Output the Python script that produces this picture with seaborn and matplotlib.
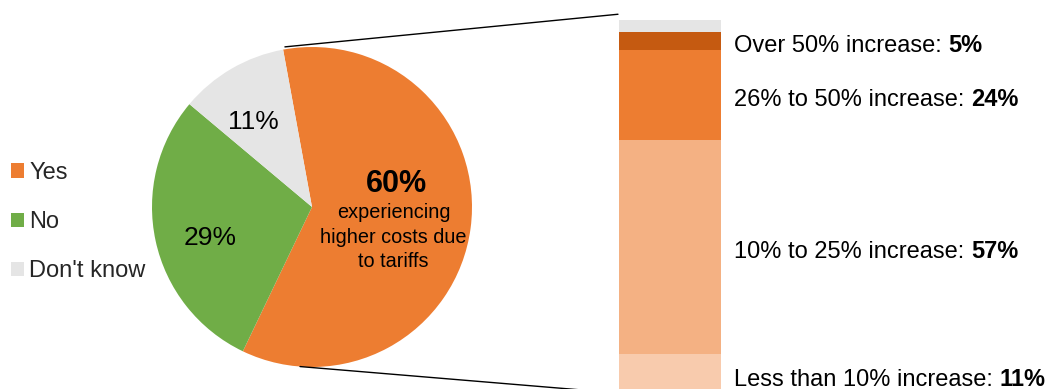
import matplotlib
matplotlib.use("Agg")
import matplotlib.pyplot as plt
from matplotlib.patches import Patch, ConnectionPatch
import seaborn as sns
import numpy as np

# ---------------- data ----------------
pie_labels = ["Yes", "No", "Don't know"]
pie_values = [60, 29, 11]
pie_colors = ["#ED7D31", "#70AD47", "#E5E5E5"]

yes_caption = "experiencing\nhigher costs due\nto tariffs"

bar_labels = ["Less than 10% increase", "10% to 25% increase",
              "26% to 50% increase", "Over 50% increase", ""]
bar_values = [11, 57, 24, 5, 3]
bar_colors = ["#F8CBAD", "#F4B183", "#ED7D31", "#C55A11", "#E5E5E5"]

# ---------------- style ----------------
sns.set_theme(style="white")
plt.rcParams["font.family"] = ["Liberation Sans", "DejaVu Sans"]

W, H = 1057, 389
fig = plt.figure(figsize=(W / 100, H / 100), dpi=100)
fig.patch.set_facecolor("white")

# ---------------- pie ----------------
ax_pie = fig.add_axes([152 / W, 22 / H, 320 / W, 320 / H])
start = 100.4
wedges, texts, autotexts = ax_pie.pie(
    pie_values, colors=pie_colors, startangle=start, counterclock=False,
    autopct=lambda p: "" if p > 50 else f"{p:.0f}%", pctdistance=0.665,
    textprops=dict(fontsize=19, color="black"),
    wedgeprops=dict(linewidth=0))
ax_pie.set_xlim(-1, 1)
ax_pie.set_ylim(-1, 1)
ax_pie.set_aspect("equal")
ax_pie.axis("off")
for w, at in zip(wedges, autotexts):
    w.set_clip_on(False)
    mid = np.deg2rad((w.theta1 + w.theta2) / 2 + 3.5)
    at.set_position((0.66 * np.cos(mid), 0.66 * np.sin(mid) - 0.016))

ax_pie.text(0.528, 0.145, f"{pie_values[0]}%", fontsize=22, weight="bold",
            ha="center", va="center", color="black")
ax_pie.text(0.51, -0.19, yes_caption, fontsize=14.3, ha="center", va="center",
            linespacing=1.36, multialignment="center", color="black")

# ---------------- stacked bar ----------------
ax_bar = fig.add_axes([619 / W, -6.25 / H, 102 / W, 375 / H])
bottoms = np.concatenate([[0], np.cumsum(bar_values)[:-1]])
for val, b, c in zip(bar_values, bottoms, bar_colors):
    sns.barplot(x=[0], y=[val], bottom=b, color=c, saturation=1, width=1,
                linewidth=0, errorbar=None, ax=ax_bar)
ax_bar.set_xlim(-0.5, 0.5)
ax_bar.set_ylim(0, 100)
ax_bar.axis("off")

for lab, val, b in zip(bar_labels, bar_values, bottoms):
    if not lab:
        continue
    yc = b + val / 2
    t = ax_bar.annotate(lab + ":", xy=(1.127, yc),
                        xycoords=("axes fraction", "data"),
                        xytext=(0, -11), textcoords="offset pixels",
                        fontsize=17, va="baseline", ha="left", color="black")
    ax_bar.annotate(f"{val}%", xy=(1, 0), xycoords=t,
                    xytext=(7, 0), textcoords="offset pixels",
                    fontsize=17, weight="bold", va="bottom", ha="left",
                    color="black")

# ---------------- connector lines ----------------
a_top = np.deg2rad(99.6)
a_bot = np.deg2rad(265.7)
for xyA, xyB in [((1.015 * np.cos(a_top), 1.015 * np.sin(a_top)), (-0.51, 101.6)),
                 ((1.0 * np.cos(a_bot), 1.0 * np.sin(a_bot)), (-0.51, 0.6))]:
    con = ConnectionPatch(xyA=xyA, coordsA=ax_pie.transData,
                          xyB=xyB, coordsB=ax_bar.transData,
                          color="black", lw=1.0)
    fig.add_artist(con)

# ---------------- legend ----------------
handles = [Patch(facecolor=c, edgecolor="none", linewidth=0, label=l)
           for c, l in zip(pie_colors, pie_labels)]
fig.legend(handles=handles, loc="center left",
           bbox_to_anchor=(11 / W, 1 - 222 / H), frameon=False, fontsize=17,
           handlelength=0.55, handleheight=0.55, handletextpad=0.22,
           labelspacing=1.15, borderpad=0, borderaxespad=0)

fig.savefig("out.png", dpi=100, facecolor="white")
